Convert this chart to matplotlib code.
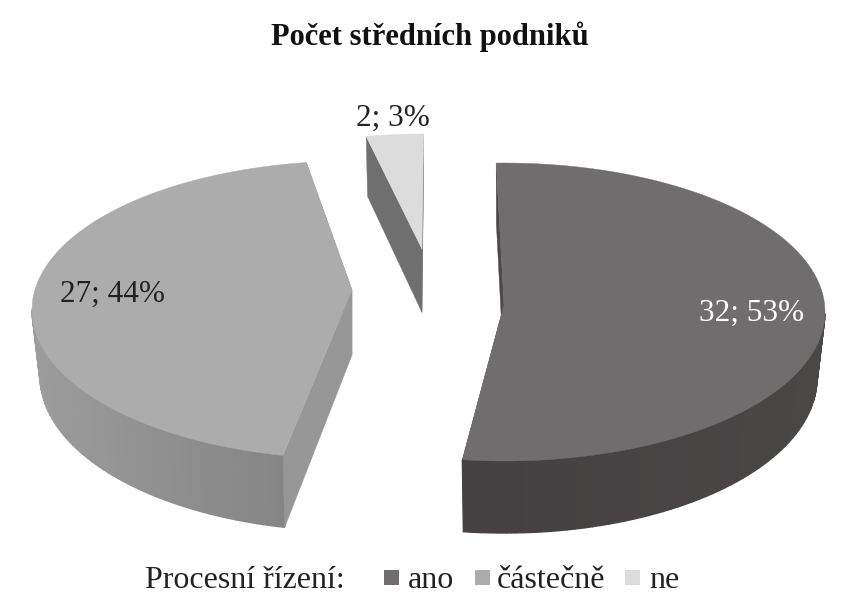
import numpy as np
import matplotlib
matplotlib.use("Agg")
import matplotlib.pyplot as plt
from matplotlib.colors import to_rgb
from matplotlib.patches import Polygon, Rectangle

plt.rcParams['font.family'] = ['Liberation Serif', 'DejaVu Serif']

title = 'Počet středních podniků'
legend_title = 'Procesní řízení:'
categories = ['ano', 'částečně', 'ne']
counts = [32, 27, 2]
percents = [53, 44, 3]

# how each exploded slice sits on the page (pixels)
apex_x = [504, 352, 422]
apex_y = [305, 290, 249]
rim_y = [312, 310, 252]
rim_a = [321, 320, 280]
rim_b = [149, 149, 118]
rim_turn = [-0.3, 4.7, 1.4]

top_colors = ['#6f6d6e', '#acacac', '#dcdcdc']
cut_colors = ['#4a4848', '#979797', '#6f6f6f']
wall_from = ['#4a4747', '#9c9c9c', '#6f6f6f']
wall_to = ['#454142', '#7f7f7f', '#6f6f6f']
label_colors = ['white', '#222222', '#222222']
label_xy = [(752, 310), (113, 291), (393, 115)]
legend_boxes = [(384, 'ano', 408), (475, 'částečně', 497), (625, 'ne', 649)]

fig = plt.figure(figsize=(8.65, 6), dpi=100)
ax = fig.add_axes([0, 0, 1, 1])
ax.set_xlim(0, 865)
ax.set_ylim(600, 0)
ax.axis('off')


def depth_at(y):
    return 60 + 12 * np.clip((y - 163) / 297, 0, 1)


start = -1.1
total = sum(counts)
for i in [2, 1, 0]:
    sweep = counts[i] / total * 360
    t0 = start + sum(counts[:i]) / total * 360
    t = np.radians(np.linspace(t0, t0 + sweep, 120) + rim_turn[i])
    xs = apex_x[i] + rim_a[i] * np.sin(t)
    ys = rim_y[i] - rim_b[i] * np.cos(t)
    # the bottom edge is a little narrower than the top one
    xb = apex_x[i] + (xs - apex_x[i]) * 0.975
    yb = ys + depth_at(ys)

    # the two cut faces, the top hides whatever is facing away
    for k in [0, -1]:
        ax.add_patch(Polygon([(apex_x[i], apex_y[i]), (xs[k], ys[k]), (xb[k], yb[k]),
                              (apex_x[i], apex_y[i] + depth_at(apex_y[i]))],
                             closed=True, fc=cut_colors[i], ec=cut_colors[i], lw=0.3,
                             zorder=2 if not (i == 0 and k == -1) else 0))

    # outer wall, only the part looking at us
    c0 = np.array(to_rgb(wall_from[i]))
    c1 = np.array(to_rgb(wall_to[i]))
    for j in range(len(t) - 1):
        if np.cos(t[j]) > 0:
            continue
        col = c1 + (c0 - c1) * abs(np.sin(t[j]))
        ax.add_patch(Polygon([(xs[j], ys[j]), (xs[j + 1], ys[j + 1]),
                              (xb[j + 1], yb[j + 1]), (xb[j], yb[j])],
                             closed=True, fc=col, ec=col, lw=1, zorder=1))

    ax.add_patch(Polygon(np.column_stack([np.r_[apex_x[i], xs], np.r_[apex_y[i], ys]]),
                         closed=True, fc=top_colors[i], ec=top_colors[i], lw=0.3, zorder=3))

    ax.text(label_xy[i][0], label_xy[i][1] + 3, '%d; %d%%' % (counts[i], percents[i]),
            ha='center', va='center', fontsize=22.5, color=label_colors[i], zorder=4)

ax.text(430, 37, title, ha='center', va='center', fontsize=22, fontweight='bold', color='#111111')

ax.text(145, 580, legend_title, ha='left', va='center', fontsize=23, color='#222222')
for (bx, name, tx), col in zip(legend_boxes, top_colors):
    ax.add_patch(Rectangle((bx, 570), 15, 15, fc=col, ec='none'))
    ax.text(tx, 580, name, ha='left', va='center', fontsize=23, color='#222222')

fig.savefig('out.png', dpi=100)
